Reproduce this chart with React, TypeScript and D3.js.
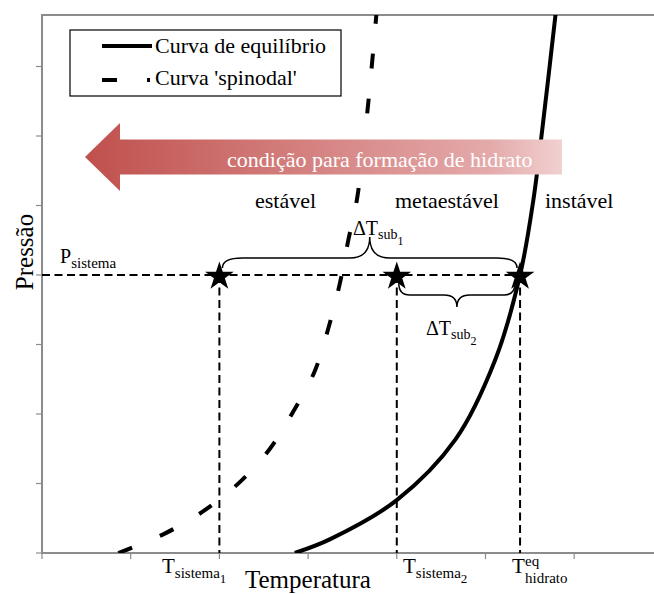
import React from "react";
import * as d3 from "d3";

// Phase-diagram sketch: hydrate equilibrium curve and spinodal curve
const equilibriumT = [2.85, 3.25, 4.0, 4.66, 5.11, 5.39, 5.54, 5.64, 5.79];
const equilibriumP = [0, 0.2, 0.76, 1.63, 2.78, 4.0, 5.08, 6.09, 7.75];
const spinodalT = [0.86, 1.4, 1.84, 2.23, 2.57, 2.83, 3.07, 3.23, 3.36, 3.45, 3.55, 3.67, 3.77];
const spinodalP = [0, 0.29, 0.62, 1.02, 1.5, 2.03, 2.6, 3.24, 3.89, 4.48, 5.08, 6.37, 7.75];

const xTicks = [0, 1, 2, 3, 4, 5, 6];
const yTicks = [0, 1, 2, 3, 4, 5, 6, 7];

const systemP = 4;
const systemT1 = 2;
const systemT2 = 4;
const hydrateT = 5.39;

const legendLabels = ["Curva de equil\u00edbrio", "Curva 'spinodal'"];
const regionLabels = ["est\u00e1vel", "metaest\u00e1vel", "inst\u00e1vel"];
const arrowLabel = "condi\u00e7\u00e3o para forma\u00e7\u00e3o de hidrato";
const xTitle = "Temperatura";
const yTitle = "Press\u00e3o";

const W = 654;
const H = 594;
const FONT = "'Liberation Serif', 'Times New Roman', serif";

export default function App() {
  const x = d3.scaleLinear().domain([0, 6.9]).range([42, 654]);
  const y = d3.scaleLinear().domain([0, 7.75]).range([553, 14.375]);

  const line = d3
    .line<[number, number]>()
    .x((d) => x(d[0]))
    .y((d) => y(d[1]))
    .curve(d3.curveCatmullRom.alpha(0.5));

  const eqPath = line(equilibriumT.map((t, i) => [t, equilibriumP[i]]) as [number, number][]) || "";
  const spPath = line(spinodalT.map((t, i) => [t, spinodalP[i]]) as [number, number][]) || "";

  const starPath = d3.symbol().type(d3.symbolStar).size(255)() || "";
  const py = y(systemP);
  const stars = [systemT1, systemT2, hydrateT].map((t) => x(t));

  // curly brace, tip pointing towards yt
  const brace = (x1: number, x2: number, yEnd: number, ym: number, yt: number, qe: number, qc: number) => {
    const xm = (x1 + x2) / 2;
    return [
      `M${x1},${yEnd}`,
      `Q${x1},${ym} ${x1 + qe},${ym}`,
      `L${xm - qc},${ym}`,
      `Q${xm},${ym} ${xm},${yt}`,
      `Q${xm},${ym} ${xm + qc},${ym}`,
      `L${x2 - qe},${ym}`,
      `Q${x2},${ym} ${x2},${yEnd}`,
    ].join(" ");
  };

  const axisColor = "#8c8c8c";
  const refDash = "8 4.5";

  // arrow geometry
  const tipX = 85, headX = 120, endX = 562;
  const midY = 157, headHalf = 34, bodyHalf = 17.5;
  const arrowPts = [
    [tipX, midY],
    [headX, midY - headHalf],
    [headX, midY - bodyHalf],
    [endX, midY - bodyHalf],
    [endX, midY + bodyHalf],
    [headX, midY + bodyHalf],
    [headX, midY + headHalf],
  ];

  return (
    <svg width={W} height={H} style={{ position: "absolute", left: 0, top: 0, background: "#fff" }} fontFamily={FONT}>
      <defs>
        <linearGradient id="arrowGrad" gradientUnits="userSpaceOnUse" x1={tipX} x2={endX} y1={0} y2={0}>
          <stop offset="0" stopColor="rgb(192,80,77)" />
          <stop offset="0.85" stopColor="rgb(228,170,170)" />
          <stop offset="1" stopColor="rgb(241,208,208)" />
        </linearGradient>
        <clipPath id="plotClip">
          <rect x={42} y={15} width={612} height={538} />
        </clipPath>
      </defs>

      {/* frame and axes */}
      <line x1={42} x2={W} y1={15} y2={15} stroke={axisColor} strokeWidth={2} />
      <line x1={42} x2={42} y1={14} y2={554} stroke={axisColor} strokeWidth={2} />
      <line x1={41} x2={W} y1={553} y2={553} stroke={axisColor} strokeWidth={2} />
      {yTicks.map((t) => (
        <line key={"yt" + t} x1={36} x2={42} y1={y(t)} y2={y(t)} stroke={axisColor} strokeWidth={1.2} />
      ))}
      {xTicks.map((t) => (
        <line key={"xt" + t} x1={x(t)} x2={x(t)} y1={553} y2={559} stroke={axisColor} strokeWidth={1.2} />
      ))}

      {/* reference lines */}
      <line x1={42} x2={x(hydrateT)} y1={py} y2={py} stroke="#000" strokeWidth={2} strokeDasharray={refDash} />
      {stars.map((sx, i) => (
        <line key={"v" + i} x1={sx} x2={sx} y1={py} y2={553} stroke="#000" strokeWidth={2} strokeDasharray={refDash} />
      ))}

      {/* curves */}
      <g clipPath="url(#plotClip)">
        <path d={eqPath} fill="none" stroke="#000" strokeWidth={4} />
        <path d={spPath} fill="none" stroke="#000" strokeWidth={4} strokeDasharray="15 30" />
      </g>

      {/* braces */}
      <path
        d={brace(stars[0] + 3, stars[2] - 3, py - 7, py - 17, py - 38, 20, 20)}
        fill="none"
        stroke="#000"
        strokeWidth={1.5}
      />
      <path
        d={brace(stars[1] + 2, stars[2] - 5, py + 8, py + 20, py + 32, 11, 13)}
        fill="none"
        stroke="#000"
        strokeWidth={1.5}
      />

      {/* stars */}
      {stars.map((sx, i) => (
        <path key={"s" + i} d={starPath} transform={`translate(${sx},${py + 1.5})`} fill="#000" />
      ))}

      {/* arrow */}
      <polygon points={arrowPts.map((p) => p.join(",")).join(" ")} fill="url(#arrowGrad)" />
      <text x={227} y={167} fontSize={22} fill="#fff">
        {arrowLabel}
      </text>

      {/* legend */}
      <rect x={70} y={30} width={271} height={66} fill="#fff" stroke="#000" strokeWidth={1.2} />
      <line x1={102} x2={152} y1={46} y2={46} stroke="#000" strokeWidth={4} />
      <line x1={102} x2={150} y1={80} y2={80} stroke="#000" strokeWidth={4} strokeDasharray="15 30" />
      <text x={155} y={53} fontSize={22}>
        {legendLabels[0]}
      </text>
      <text x={155} y={85} fontSize={22}>
        {legendLabels[1]}
      </text>

      {/* region labels */}
      <text x={255} y={208} fontSize={22}>
        {regionLabels[0]}
      </text>
      <text x={395} y={208} fontSize={22}>
        {regionLabels[1]}
      </text>
      <text x={545} y={208} fontSize={22}>
        {regionLabels[2]}
      </text>

      {/* annotations */}
      <text x={60} y={263} fontSize={20}>
        P<tspan fontSize={15} dy={5}>sistema</tspan>
      </text>
      <text x={353} y={235} fontSize={20}>
        {"\u0394T"}
        <tspan fontSize={14} dy={4}>sub</tspan>
        <tspan fontSize={12} dy={6}>1</tspan>
      </text>
      <text x={426} y={335} fontSize={20}>
        {"\u0394T"}
        <tspan fontSize={14} dy={4}>sub</tspan>
        <tspan fontSize={12} dy={6}>2</tspan>
      </text>

      {/* temperature markers */}
      <text x={162} y={573} fontSize={21}>
        T<tspan fontSize={15} dy={5}>sistema</tspan>
        <tspan fontSize={13} dy={5}>1</tspan>
      </text>
      <text x={403} y={573} fontSize={21}>
        T<tspan fontSize={15} dy={5}>sistema</tspan>
        <tspan fontSize={13} dy={5}>2</tspan>
      </text>
      <text x={512} y={573} fontSize={21}>
        T
      </text>
      <text x={525} y={566} fontSize={15}>
        eq
      </text>
      <text x={525} y={583} fontSize={15}>
        hidrato
      </text>

      {/* axis titles */}
      <text x={245} y={588} fontSize={25}>
        {xTitle}
      </text>
      <text transform="translate(33,252) rotate(-90)" textAnchor="middle" fontSize={25}>
        {yTitle}
      </text>
    </svg>
  );
}
